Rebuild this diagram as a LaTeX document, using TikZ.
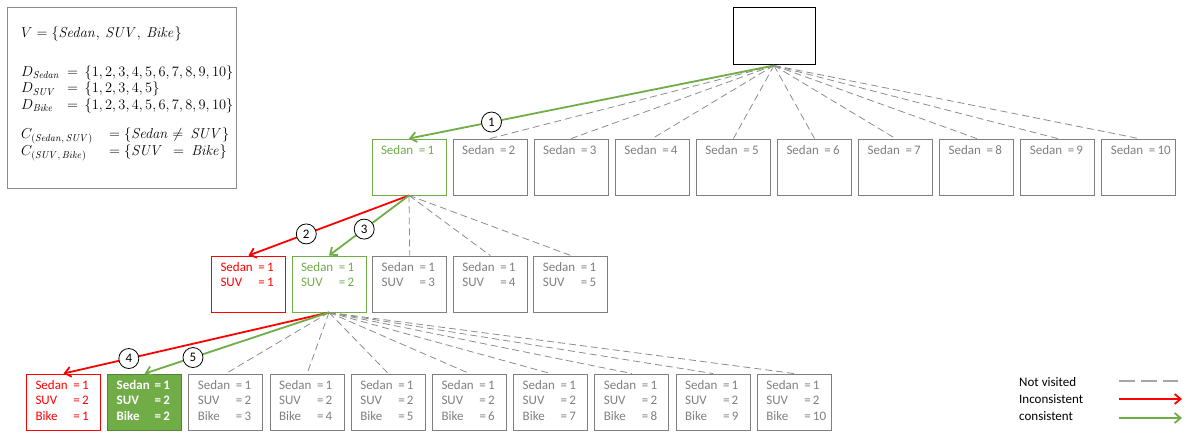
\documentclass[tikz,border=0pt]{standalone}
\usepackage[no-math]{fontspec}
\setmainfont{Carlito}
\usetikzlibrary{arrows.meta}

\definecolor{okgreen}{HTML}{70AD47}
\definecolor{okgreendark}{HTML}{548235}
\definecolor{badred}{HTML}{FF0000}
\definecolor{boxgray}{HTML}{7F7F7F}
\definecolor{dashgray}{HTML}{8C8C8C}
\definecolor{keygray}{HTML}{A6A6A6}
\definecolor{framegray}{HTML}{8C8C8C}

% fixed-size cell body: text sits at the top of the box
\newcommand\cellbody[1]{\parbox[c][44pt][t]{56pt}{#1}}
% one "variable = value" line with aligned equals signs
\newcommand\kv[2]{\makebox[38pt][l]{#1}=\,#2}

\begin{document}
\begin{tikzpicture}[x=1pt,y=-1pt,
  every node/.style={font=\fontsize{13}{15.5}\selectfont},
  state/.style={rectangle, draw=boxgray, line width=0.9pt, text=boxgray,
    inner xsep=9pt, inner ysep=6pt},
  okstate/.style={state, draw=okgreen, text=okgreen},
  badstate/.style={state, draw=badred, text=badred},
  solvedstate/.style={state, draw=okgreendark, fill=okgreen, text=white,
    font=\fontsize{13}{15.5}\selectfont\bfseries},
  unseen/.style={draw=dashgray, line width=0.8pt, dash pattern=on 7pt off 4pt},
  goodarc/.style={draw=okgreen, line width=1.8pt, -{Straight Barb[length=6pt,width=10pt]}},
  badarc/.style={draw=badred, line width=1.8pt, -{Straight Barb[length=6pt,width=10pt]}},
  keydash/.style={draw=keygray, line width=2pt, dash pattern=on 16pt off 6pt},
  stepnum/.style={circle, draw=black, fill=white, line width=0.8pt,
    minimum size=20pt, inner sep=0pt, text=black},
  keytext/.style={anchor=west, inner sep=0pt, text=black}
]
\useasboundingbox (0,0) rectangle (1196,443);

% problem definition panel
\node[draw=framegray, line width=0.9pt, minimum width=229pt, minimum height=181pt,
  inner sep=0pt] (info) at (121.5,97.5) {};
\node[anchor=north west, align=left, inner sep=0pt,
  font=\fontsize{14}{16.5}\selectfont] (defs) at (21,27) {%
  $V=\{\mathit{Sedan},\ \mathit{SUV},\ \mathit{Bike}\}$\\[22pt]
  \makebox[46pt][l]{$D_{\mathit{Sedan}}$}$=\,\{1,2,3,4,5,6,7,8,9,10\}$\\
  \makebox[46pt][l]{$D_{\mathit{SUV}}$}$=\,\{1,2,3,4,5\}$\\
  \makebox[46pt][l]{$D_{\mathit{Bike}}$}$=\,\{1,2,3,4,5,6,7,8,9,10\}$\\[13pt]
  \makebox[88pt][l]{$C_{(\mathit{Sedan},\,\mathit{SUV})}$}$=\{\mathit{Sedan}\neq\ \mathit{SUV}\}$\\
  \makebox[88pt][l]{$C_{(\mathit{SUV},\,\mathit{Bike})}$}$=\{\mathit{SUV}\ \ =\ \mathit{Bike}\}$};

% root of the search tree
\node[draw=black, line width=1pt, minimum width=82pt, minimum height=57pt,
  inner sep=0pt] (root) at (774,36.5) {};

% level 1: Sedan
\node[okstate] (a1) at (409,167) {\cellbody{\kv{Sedan}{1}}};
\foreach \i [evaluate=\i as \xx using 409+(\i-1)*81.1] in {2,...,10}
  \node[state] (a\i) at (\xx,167) {\cellbody{\kv{Sedan}{\i}}};

% level 2: SUV
\node[badstate] (b1) at (248.5,284) {\cellbody{\kv{Sedan}{1}\\\kv{SUV}{1}}};
\node[okstate] (b2) at (329,284) {\cellbody{\kv{Sedan}{1}\\\kv{SUV}{2}}};
\foreach \i [evaluate=\i as \xx using 248.5+(\i-1)*80.6] in {3,4,5}
  \node[state] (b\i) at (\xx,284) {\cellbody{\kv{Sedan}{1}\\\kv{SUV}{\i}}};

% level 3: Bike
\node[badstate] (c1) at (63.5,402)
  {\cellbody{\kv{Sedan}{1}\\\kv{SUV}{2}\\\kv{Bike}{1}}};
\node[solvedstate] (c2) at (144.7,402)
  {\cellbody{\kv{Sedan}{1}\\\kv{SUV}{2}\\\kv{Bike}{2}}};
\foreach \i [evaluate=\i as \xx using 63.5+(\i-1)*81.2] in {3,...,10}
  \node[state] (c\i) at (\xx,402)
    {\cellbody{\kv{Sedan}{1}\\\kv{SUV}{2}\\\kv{Bike}{\i}}};

% branches that were never explored
\foreach \i in {2,...,10} \draw[unseen] (root.south) -- (a\i.north);
\foreach \i in {3,4,5} \draw[unseen] (a1.south) -- (b\i.north);
\foreach \i in {3,...,10} \draw[unseen] (b2.south) -- (c\i.north);

% explored branches, numbered in visiting order
\draw[goodarc] (root.south) -- node[stepnum, pos=0.774] (s1) {1} (a1.north);
\draw[badarc] (a1.south) -- node[stepnum, pos=0.64] (s2) {2} (b1.north);
\draw[goodarc] (a1.south) -- node[stepnum, pos=0.56] (s3) {3} (b2.north);
\draw[badarc] (b2.south) -- node[stepnum, pos=0.754] (s4) {4} (c1.north);
\draw[goodarc] (b2.south) -- node[stepnum, pos=0.738] (s5) {5} (c2.north);

% key
\node[keytext] (knot) at (1019,382) {Not visited};
\node[keytext] (kbad) at (1019,399) {Inconsistent};
\node[keytext] (kgood) at (1019,416) {consistent};
\coordinate (knotA) at (1119,381); \coordinate (knotB) at (1178,381);
\coordinate (kbadA) at (1119,399); \coordinate (kbadB) at (1182,399);
\coordinate (kgoodA) at (1119,418); \coordinate (kgoodB) at (1182,418);
\draw[keydash] (knotA) -- (knotB);
\draw[badarc] (kbadA) -- (kbadB);
\draw[goodarc] (kgoodA) -- (kgoodB);
\end{tikzpicture}
\end{document}
